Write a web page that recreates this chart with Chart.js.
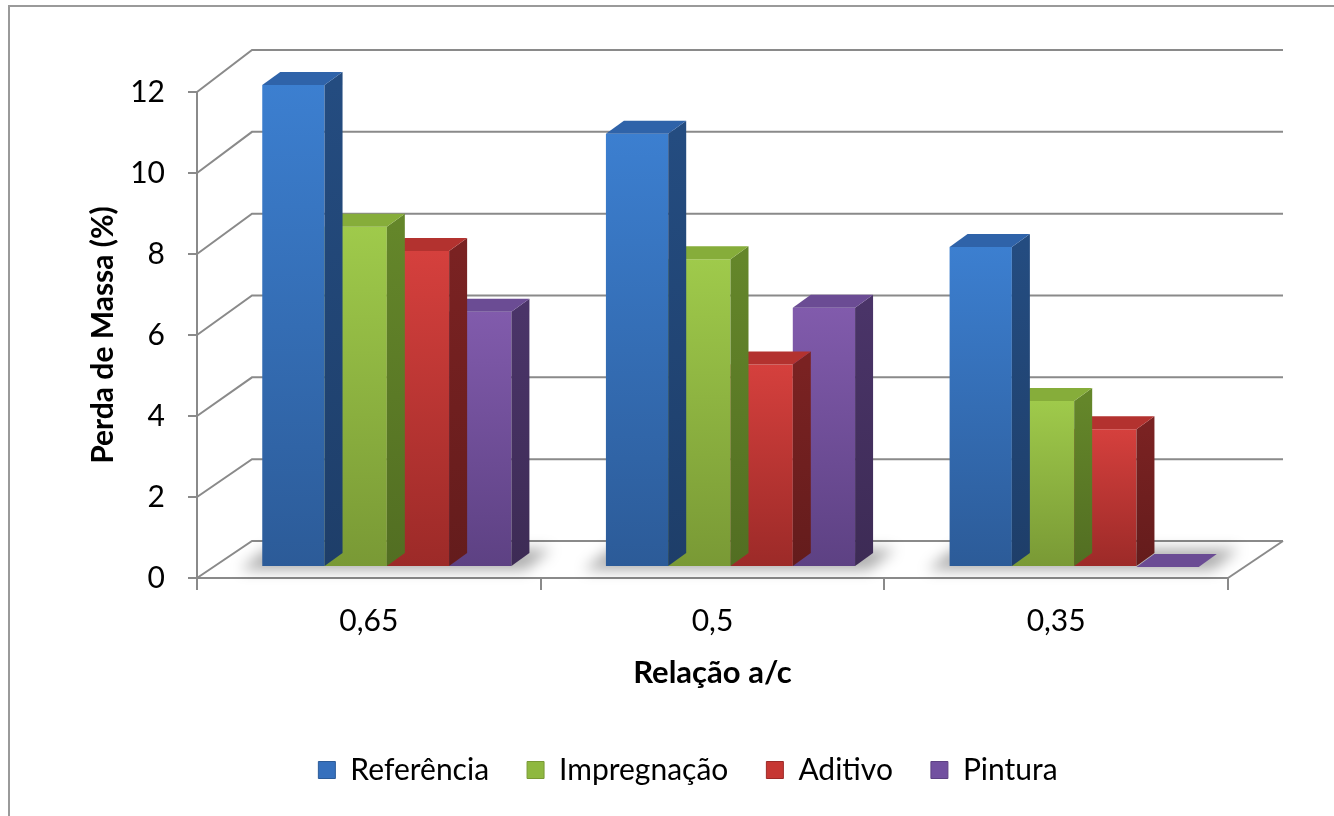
<!DOCTYPE html>
<html>
<head>
<meta charset="utf-8">
<script src="https://cdn.jsdelivr.net/npm/chart.js@4.4.1/dist/chart.umd.min.js"></script>
<style>
  html, body { margin: 0; padding: 0; background: #fff; }
  #wrap { width: 1334px; height: 816px; }
</style>
</head>
<body>
<div id="wrap"><canvas id="grafico"></canvas></div>
<script>
// perda de massa (%) por relação a/c
const relacao = ['0,65', '0,5', '0,35'];
const series = ['Referência', 'Impregnação', 'Aditivo', 'Pintura'];
const referencia = [11.9, 10.7, 7.9];
const impregnacao = [8.4, 7.6, 4.1];
const aditivo = [7.8, 5.0, 3.4];
const pintura = [6.3, 6.4, 0];
const yTicks = [0, 2, 4, 6, 8, 10, 12];

// cores de cada série: frente (topo/base), lateral e tampa
const cores = [
  {luz: '#3c7fd0', sombra: '#2c5b98', lado: '#244c80', tampa: '#2f63a9', legenda: '#3670bd'},
  {luz: '#9fca4b', sombra: '#799935', lado: '#64862a', tampa: '#86ad3a', legenda: '#8fb840'},
  {luz: '#d5403d', sombra: '#9c2a28', lado: '#7a2222', tampa: '#b3322f', legenda: '#c63733'},
  {luz: '#815bac', sombra: '#5d4183', lado: '#4a3468', tampa: '#6b4c94', legenda: '#7250a0'}
];

const FONTE = 'Lato';
const CINZA = '#8a8a8a';
// deslocamento das barras para dentro da caixa e profundidade delas
const BARRA_DX = 18, BARRA_DY = -11;
const PROF_DX = 18, PROF_DY = -13;
// parede do fundo
const FUNDO_DX = 55;
const fundoDy = (y, base) => -37 - (base - y) * 0.0103;

const frente = (i) => (c) => {
  const cor = cores[i];
  if (!c.parsed || !c.chart.chartArea) return cor.legenda;
  const ys = c.chart.scales.y;
  const topo = ys.getPixelForValue(c.parsed.y);
  const base = ys.getPixelForValue(0);
  if (base - topo < 1) return cor.sombra;
  const g = c.chart.ctx.createLinearGradient(0, topo, 0, base);
  g.addColorStop(0, cor.luz);
  g.addColorStop(1, cor.sombra);
  return g;
};

const cenario3d = {
  id: 'cenario3d',
  afterLayout(chart) {
    // centraliza a legenda sob o gráfico
    chart.legend.left += 74;
    chart.legend.right += 74;
  },
  beforeDraw(chart) {
    const ctx = chart.ctx;
    ctx.save();
    ctx.fillStyle = '#fff';
    ctx.fillRect(0, 0, chart.width, chart.height);
    ctx.strokeStyle = '#9a9a9a';
    ctx.lineWidth = 2;
    ctx.strokeRect(9, 6, chart.width + 20, chart.height + 20);
    ctx.restore();
  },
  beforeDatasetsDraw(chart) {
    const ctx = chart.ctx;
    const ys = chart.scales.y;
    const {left, right} = chart.chartArea;
    const base = ys.getPixelForValue(0);
    ctx.save();
    ctx.strokeStyle = CINZA;
    ctx.lineWidth = 2;
    // linhas de grade na parede lateral e no fundo
    ys.ticks.forEach(t => {
      const y = ys.getPixelForValue(t.value);
      const dy = fundoDy(y, base);
      ctx.beginPath();
      ctx.moveTo(left, y);
      ctx.lineTo(left + FUNDO_DX, y + dy);
      ctx.lineTo(right + FUNDO_DX, y + dy);
      ctx.stroke();
    });
    // borda direita do piso
    ctx.beginPath();
    ctx.moveTo(right, base);
    ctx.lineTo(right + FUNDO_DX, base + fundoDy(base, base));
    ctx.stroke();

    // sombra das barras no piso
    const m0 = chart.getDatasetMeta(0), m3 = chart.getDatasetMeta(series.length - 1);
    ctx.filter = 'blur(7px)';
    ctx.fillStyle = 'rgba(0,0,0,0.32)';
    m0.data.forEach((el, i) => {
      const L = el.x - el.width / 2;
      const e3 = m3.data[i];
      const R = e3.x + e3.width / 2;
      const yf = base + BARRA_DY + 3;
      ctx.beginPath();
      ctx.moveTo(L + BARRA_DX - 22, yf);
      ctx.lineTo(R + BARRA_DX + 14, yf);
      ctx.lineTo(R + BARRA_DX + PROF_DX + 22, yf + PROF_DY - 8);
      ctx.lineTo(L + BARRA_DX + PROF_DX - 14, yf + PROF_DY - 8);
      ctx.closePath();
      ctx.fill();
    });
    ctx.restore();
  },
  beforeDatasetDraw(chart) {
    chart.ctx.save();
    chart.ctx.translate(BARRA_DX, BARRA_DY);
  },
  afterDatasetDraw(chart, args) {
    const ctx = chart.ctx;
    const cor = cores[args.index];
    args.meta.data.forEach(el => {
      const l = el.x - el.width / 2, r = el.x + el.width / 2;
      const t = el.y, b = el.base;
      // lateral direita
      const g = ctx.createLinearGradient(0, t, 0, b);
      g.addColorStop(0, cor.lado);
      g.addColorStop(1, cor.sombra === cor.lado ? cor.lado : shade(cor.lado, 0.82));
      ctx.fillStyle = g;
      ctx.beginPath();
      ctx.moveTo(r, t);
      ctx.lineTo(r + PROF_DX, t + PROF_DY);
      ctx.lineTo(r + PROF_DX, b + PROF_DY);
      ctx.lineTo(r, b);
      ctx.closePath();
      ctx.fill();
      // tampa
      ctx.fillStyle = cor.tampa;
      ctx.beginPath();
      ctx.moveTo(l, t);
      ctx.lineTo(l + PROF_DX, t + PROF_DY);
      ctx.lineTo(r + PROF_DX, t + PROF_DY);
      ctx.lineTo(r, t);
      ctx.closePath();
      ctx.fill();
    });
    ctx.restore();
  }
};

function shade(hex, f) {
  const n = parseInt(hex.slice(1), 16);
  const r = Math.round(((n >> 16) & 255) * f);
  const g = Math.round(((n >> 8) & 255) * f);
  const b = Math.round((n & 255) * f);
  return `rgb(${r},${g},${b})`;
}

const valores = [referencia, impregnacao, aditivo, pintura];

new Chart(document.getElementById('grafico'), {
  type: 'bar',
  data: {
    labels: relacao,
    datasets: series.map((nome, i) => ({
      label: nome,
      data: valores[i],
      backgroundColor: frente(i),
      borderWidth: 0,
      categoryPercentage: 0.725,
      barPercentage: 1,
      clip: false
    }))
  },
  options: {
    responsive: true,
    maintainAspectRatio: false,
    animation: false,
    layout: { padding: { left: 0, top: 92, right: 106, bottom: 21 } },
    scales: {
      x: {
        grid: { drawOnChartArea: false, tickLength: 12, color: CINZA, lineWidth: 2 },
        border: { color: CINZA, width: 2 },
        ticks: { color: '#000', padding: 13, font: { family: FONTE, size: 30 } },
        title: {
          display: true, text: 'Relação a/c', color: '#000',
          font: { family: FONTE, size: 31, weight: 'bold' },
          padding: { top: 0, bottom: 25 }
        },
        afterFit(scale) { scale.height = 139; }
      },
      y: {
        min: 0, max: 12,
        afterBuildTicks(scale) { scale.ticks = yTicks.map(v => ({ value: v })); },
        grid: { drawOnChartArea: false, tickLength: 9, color: CINZA, lineWidth: 2 },
        border: { color: CINZA, width: 2 },
        ticks: { color: '#000', padding: 23, font: { family: FONTE, size: 30 } },
        title: {
          display: true, text: 'Perda de Massa (%)', color: '#000',
          font: { family: FONTE, size: 30, weight: 'bold' },
          padding: { top: 85, bottom: 0 }
        },
        afterFit(scale) { scale.width = 197; }
      }
    },
    plugins: {
      legend: {
        position: 'bottom',
        labels: {
          color: '#000',
          boxWidth: 17, boxHeight: 17, padding: 38,
          font: { family: FONTE, size: 30 },
          generateLabels(chart) {
            return chart.data.datasets.map((ds, i) => ({
              text: ds.label, fillStyle: cores[i].legenda, strokeStyle: cores[i].sombra,
              lineWidth: 1, datasetIndex: i, hidden: false
            }));
          }
        }
      },
      tooltip: { enabled: false }
    }
  },
  plugins: [cenario3d]
});
</script>
</body>
</html>
